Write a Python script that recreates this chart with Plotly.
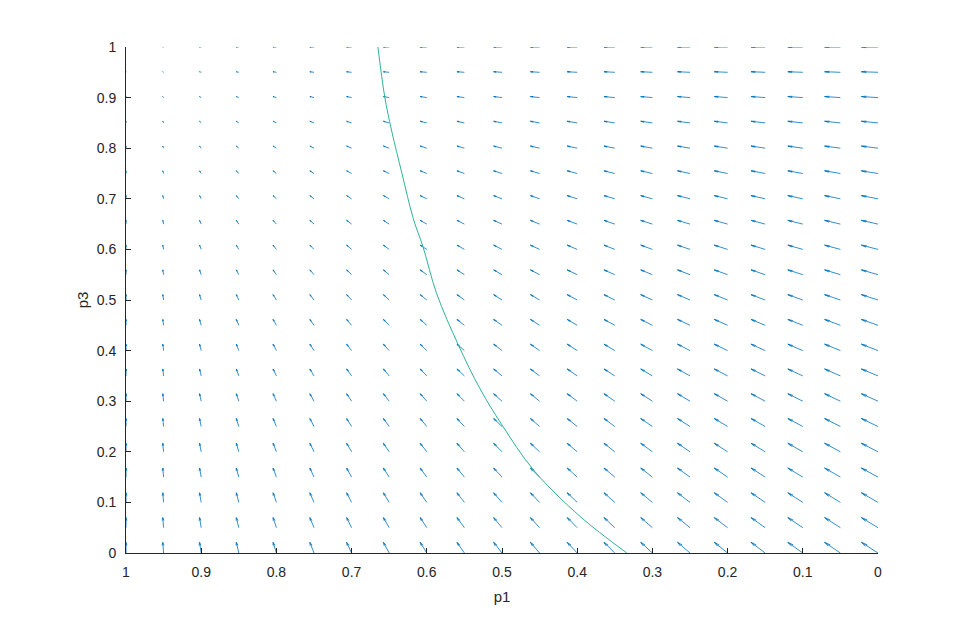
import plotly.graph_objects as go

# grid positions (p1 along x, p3 along y)
p1_grid = [0.0, 0.05, 0.1, 0.15, 0.2, 0.25, 0.3, 0.35, 0.4, 0.45, 0.5,
           0.55, 0.6, 0.65, 0.7, 0.75, 0.8, 0.85, 0.9, 0.95, 1.0]
p3_grid = [0.0, 0.05, 0.1, 0.15, 0.2, 0.25, 0.3, 0.35, 0.4, 0.45, 0.5,
           0.55, 0.6, 0.65, 0.7, 0.75, 0.8, 0.85, 0.9, 0.95, 1.0]

# arrow component along p1 (per column)
u_by_p1 = [0.0221, 0.0210, 0.0199, 0.0188, 0.0177, 0.0166, 0.0155, 0.0144,
           0.0133, 0.0122, 0.0111, 0.0099, 0.0088, 0.0077, 0.0066, 0.0055,
           0.0044, 0.0033, 0.0022, 0.0011, 0.0]
# arrow component along p3 (per row)
v_by_p3 = [0.0211, 0.0200, 0.0190, 0.0179, 0.0169, 0.0158, 0.0148, 0.0137,
           0.0127, 0.0116, 0.0106, 0.0095, 0.0084, 0.0074, 0.0063, 0.0053,
           0.0042, 0.0032, 0.0021, 0.0011, 0.0]

# green curve
curve_p1 = [0.665, 0.656, 0.647, 0.633, 0.618, 0.605, 0.587, 0.558, 0.529,
            0.500, 0.458, 0.396, 0.334]
curve_p3 = [1.000, 0.902, 0.836, 0.750, 0.661, 0.605, 0.513, 0.411, 0.324,
            0.253, 0.164, 0.072, 0.000]

x_ticks = [1, 0.9, 0.8, 0.7, 0.6, 0.5, 0.4, 0.3, 0.2, 0.1, 0]
x_ticklabels = ["1", "0.9", "0.8", "0.7", "0.6", "0.5", "0.4", "0.3", "0.2", "0.1", "0"]
y_ticks = [0, 0.1, 0.2, 0.3, 0.4, 0.5, 0.6, 0.7, 0.8, 0.9, 1]
y_ticklabels = ["0", "0.1", "0.2", "0.3", "0.4", "0.5", "0.6", "0.7", "0.8", "0.9", "1"]

ARROW_BLUE = "#0072BD"
CURVE = "#2fb496"
TXT = "#262626"
FONT = "Liberation Sans, Arial, sans-serif"

alpha = 0.3
beta = 0.2
eps = 1e-12

sx, sy = [], []
hx, hy = [], []
for i, p1 in enumerate(p1_grid):
    for j, p3 in enumerate(p3_grid):
        u = u_by_p1[i]
        v = v_by_p3[j]
        sx += [p1, p1 + u, None]
        sy += [p3, p3 + v, None]
        if abs(u) + abs(v) > 1e-9:
            tx, ty = p1 + u, p3 + v
            hx += [tx - alpha * (u + beta * (v + eps)), tx,
                   tx - alpha * (u - beta * (v + eps)), None]
            hy += [ty - alpha * (v - beta * (u + eps)), ty,
                   ty - alpha * (v + beta * (u + eps)), None]

fig = go.Figure()
fig.add_trace(go.Scatter(x=sx, y=sy, mode="lines",
                         line=dict(color=ARROW_BLUE, width=0.8),
                         hoverinfo="skip", showlegend=False))
fig.add_trace(go.Scatter(x=hx, y=hy, mode="lines",
                         line=dict(color=ARROW_BLUE, width=0.8),
                         hoverinfo="skip", showlegend=False))
fig.add_trace(go.Scatter(x=curve_p1, y=curve_p3, mode="lines",
                         line=dict(color=CURVE, width=1, shape="spline"),
                         hoverinfo="skip", showlegend=False))

axis_common = dict(
    showgrid=False, zeroline=False, showline=True, linecolor=TXT, linewidth=1,
    ticks="inside", ticklen=5, tickcolor=TXT, tickwidth=1, mirror=False,
    tickfont=dict(family=FONT, size=14, color=TXT),
)

fig.update_layout(
    width=971, height=622,
    margin=dict(l=118, r=101, t=39, b=77),
    paper_bgcolor="white", plot_bgcolor="white",
    xaxis=dict(range=[1, 0], tickvals=x_ticks, ticktext=x_ticklabels,
               title=dict(text="p1", standoff=12,
                          font=dict(family=FONT, size=15, color=TXT)),
               ticklabelstandoff=6, **axis_common),
    yaxis=dict(range=[0, 1], tickvals=y_ticks, ticktext=y_ticklabels,
               title=dict(text="p3", standoff=4,
                          font=dict(family=FONT, size=15, color=TXT)),
               ticklabelstandoff=6, **axis_common),
)

fig.write_html("out.html")
